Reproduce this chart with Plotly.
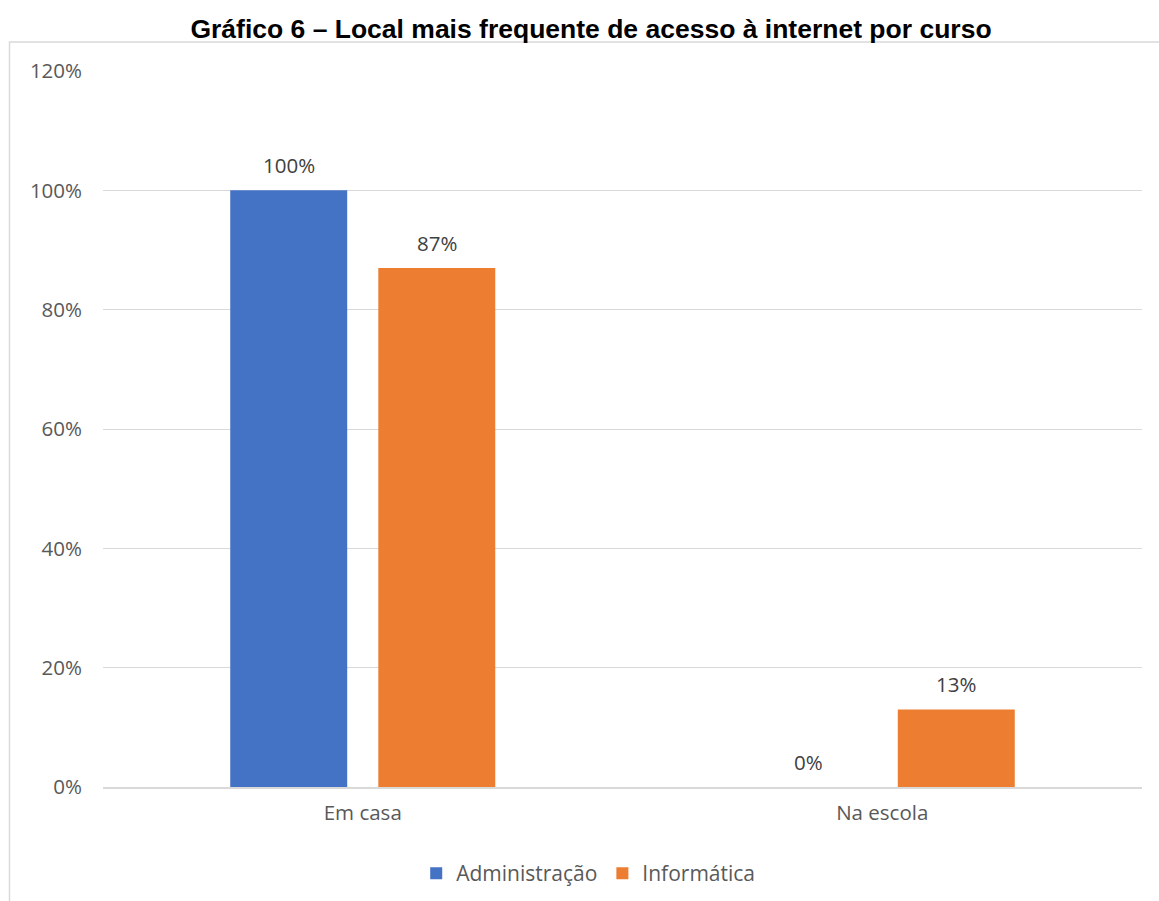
import plotly.graph_objects as go

categories = ["Em casa", "Na escola"]
administracao = [1.00, 0.00]
informatica = [0.87, 0.13]
y_ticks = [0, 0.2, 0.4, 0.6, 0.8, 1.0, 1.2]
y_tick_labels = ["0%", "20%", "40%", "60%", "80%", "100%", "120%"]

series = [
    ("Administração", administracao, "#4472C4"),
    ("Informática", informatica, "#ED7D31"),
]

BASE_FONT = "Open Sans, Noto Sans, sans-serif"
BARGAP = 0.43
BARGROUPGAP = 0.21
PLOT_W = 1039  # plot-area width in px (1159 - left - right margins)

fig = go.Figure()
for name, values, color in series:
    fig.add_trace(go.Bar(
        name=name, x=categories, y=values,
        marker=dict(color=color, line=dict(width=0)),
        cliponaxis=False,
    ))

# value labels above each bar, offset horizontally to the bar's slot in its group
slot_px = (1 - BARGAP) * PLOT_W / len(categories) / len(series)
annotations = []
for i, (name, values, color) in enumerate(series):
    xshift = (i - (len(series) - 1) / 2) * slot_px
    for cat, v in zip(categories, values):
        annotations.append(dict(
            x=cat, y=v, xref="x", yref="y", text=f"{v:.0%}", showarrow=False,
            xshift=xshift, yshift=25, yanchor="middle",
            font=dict(family=BASE_FONT, size=20.5, color="#404040"),
        ))

fig.update_layout(
    width=1159, height=901,
    margin=dict(l=103, r=17, t=71, b=114, autoexpand=False),
    paper_bgcolor="white", plot_bgcolor="white",
    barmode="group", bargap=BARGAP, bargroupgap=BARGROUPGAP,
    title=dict(
        text="<b>Gráfico 6 – Local mais frequente de acesso à internet por curso</b>",
        x=591 / 1159, xanchor="center", y=1 - 29 / 901, yanchor="middle",
        font=dict(family="Liberation Sans, Arial, sans-serif", size=26.5, color="black"),
    ),
    font=dict(family=BASE_FONT, size=20.5, color="#595959"),
    xaxis=dict(
        showgrid=False, showline=True, linecolor="#d9d9d9", linewidth=1.5,
        ticks="", tickfont=dict(size=20.5, color="#595959"), ticklabelstandoff=7,
    ),
    yaxis=dict(
        range=[0, 1.2], tickvals=y_ticks, ticktext=y_tick_labels,
        showgrid=True, gridcolor="#d9d9d9", gridwidth=1.3,
        zeroline=False, showline=False, ticks="", ticklabelstandoff=20,
        tickfont=dict(size=20.5, color="#595959"),
    ),
    legend=dict(
        orientation="h", x=0.467, xanchor="center", y=-0.121, yanchor="middle",
        font=dict(size=21, color="#595959"), itemwidth=30,
        traceorder="normal",
    ),
    annotations=annotations,
    shapes=[dict(
        type="rect", xref="paper", yref="paper",
        x0=(9.5 - 103) / 1039, x1=(1170 - 103) / 1039,
        y0=(787 - 920) / 716, y1=(787 - 42) / 716,
        line=dict(color="#d9d9d9", width=1.5), fillcolor="rgba(0,0,0,0)", layer="below",
    )],
)

fig.write_html("out.html")
